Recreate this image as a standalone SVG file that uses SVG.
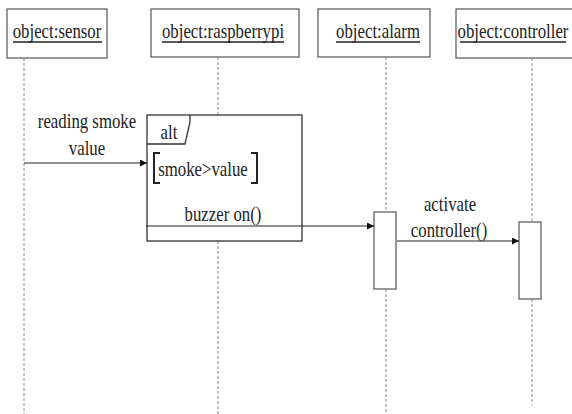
<svg xmlns="http://www.w3.org/2000/svg" width="572" height="414" viewBox="0 0 572 414">
<style>
.box{fill:#fff;stroke:#555;stroke-width:1.2}
.life{stroke:#888;stroke-width:1;stroke-dasharray:3 2;fill:none}
.ul{stroke:#222;stroke-width:1.3}
.msg{stroke:#222;stroke-width:1.2;fill:none;marker-end:url(#ah)}
.frame{fill:none;stroke:#333;stroke-width:1.3}
.br{fill:none;stroke:#222;stroke-width:2}
</style>
<defs>
<marker id="ah" viewBox="0 0 10 10" refX="10" refY="5" markerWidth="7" markerHeight="7" markerUnits="userSpaceOnUse" orient="auto">
<path d="M0,0 L10,5 L0,10 z" fill="#111"/>
</marker>
</defs>
<rect width="572" height="414" fill="#fff"/>

<g id="sensor">
<rect class="box" x="7" y="9" width="100" height="49"/>
<text font-family="Liberation Serif, serif" font-size="21" fill="#222" text-anchor="middle" transform="matrix(0.8 0 0 1 57 38)">object:sensor</text>
<line class="ul" x1="13" y1="42" x2="102" y2="42"/>
<line class="life" x1="24" y1="58" x2="24" y2="414"/>
</g>

<g id="raspberrypi">
<rect class="box" x="151" y="9" width="148" height="48"/>
<text font-family="Liberation Serif, serif" font-size="21" fill="#222" text-anchor="middle" transform="matrix(0.8 0 0 1 223 38)">object:raspberrypi</text>
<line class="ul" x1="162" y1="42" x2="284" y2="42"/>
<line class="life" x1="218" y1="57" x2="218" y2="115"/>
<line class="life" x1="218" y1="241" x2="218" y2="414"/>
</g>

<g id="alarm">
<rect class="box" x="318" y="9" width="112" height="48"/>
<text font-family="Liberation Serif, serif" font-size="21" fill="#222" text-anchor="middle" transform="matrix(0.8 0 0 1 378 38)">object:alarm</text>
<line class="ul" x1="336" y1="42" x2="420" y2="42"/>
<line class="life" x1="386" y1="57" x2="386" y2="212"/>
<line class="life" x1="386" y1="289" x2="386" y2="414"/>
<rect class="box" x="374" y="212" width="22" height="77"/>
</g>

<g id="controller">
<rect class="box" x="456" y="9" width="124" height="49"/>
<text font-family="Liberation Serif, serif" font-size="21" fill="#222" text-anchor="middle" transform="matrix(0.8 0 0 1 513 38)">object:controller</text>
<line class="ul" x1="460" y1="42" x2="566" y2="42"/>
<line class="life" x1="532" y1="58" x2="532" y2="222"/>
<line class="life" x1="532" y1="299" x2="532" y2="405"/>
<rect class="box" x="519" y="222" width="22" height="77"/>
</g>

<g id="alt-frame">
<rect class="frame" x="147" y="115" width="155" height="126"/>
<path class="frame" d="M147,144 H185 L190,122 V115"/>
<text font-family="Liberation Serif, serif" font-size="21" fill="#222" text-anchor="middle" transform="matrix(0.8 0 0 1 169 139)">alt</text>
<path class="br" d="M160,153 H154 V183 H160"/>
<path class="br" d="M251,153 H257 V183 H251"/>
<text font-family="Liberation Serif, serif" font-size="21" fill="#222" text-anchor="middle" transform="matrix(0.8 0 0 1 203 176)">smoke&gt;value</text>
</g>

<g id="connectors">
<line class="msg" x1="24" y1="163" x2="147" y2="163"/>
<text font-family="Liberation Serif, serif" font-size="21" fill="#222" text-anchor="middle" transform="matrix(0.8 0 0 1 87 128)">reading smoke</text>
<text font-family="Liberation Serif, serif" font-size="21" fill="#222" text-anchor="middle" transform="matrix(0.8 0 0 1 87 155)">value</text>
<line class="msg" x1="146" y1="226" x2="374" y2="226"/>
<text font-family="Liberation Serif, serif" font-size="21" fill="#222" text-anchor="middle" transform="matrix(0.8 0 0 1 223 221)">buzzer on()</text>
<line class="msg" x1="397" y1="241" x2="519" y2="241"/>
<text font-family="Liberation Serif, serif" font-size="21" fill="#222" text-anchor="middle" transform="matrix(0.8 0 0 1 450 211)">activate</text>
<text font-family="Liberation Serif, serif" font-size="21" fill="#222" text-anchor="middle" transform="matrix(0.8 0 0 1 449 237)">controller()</text>
</g>
</svg>
